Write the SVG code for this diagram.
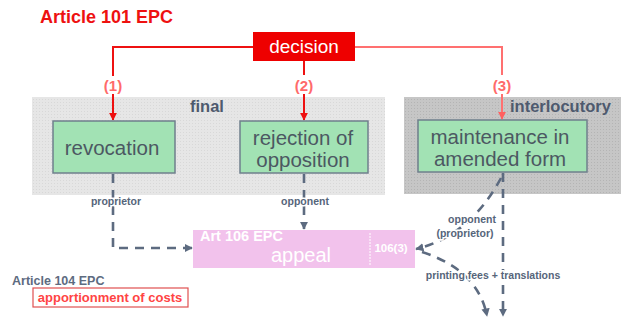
<svg xmlns="http://www.w3.org/2000/svg" width="621" height="320" viewBox="0 0 621 320">
  <defs>
    <style>
      .t { font-family: "Liberation Sans", Arial, sans-serif; }
      .box { fill: #a2e2b4; stroke: #6f7f8c; stroke-width: 1.5; }
      .boxtxt { font-size: 20.5px; fill: #4c5862; text-anchor: middle; }
      .red { stroke: #ee1111; stroke-width: 2; fill: none; }
      .pink { stroke: #ff7070; stroke-width: 2; fill: none; }
      .num { font-size: 15px; font-weight: bold; fill: #ff6a6a; text-anchor: middle; }
      .dash { stroke: #5d6b80; stroke-width: 2.6; fill: none; stroke-dasharray: 9 7; }
      .lbl { font-size: 10.5px; font-weight: bold; fill: #56657a; text-anchor: middle; stroke: #ffffff; stroke-width: 3; paint-order: stroke; }
      .panel { font-size: 16.5px; font-weight: bold; fill: #4e5a6e; }
    </style>
    <marker id="ar" viewBox="0 0 10 10" refX="9" refY="5" markerWidth="4" markerHeight="4" orient="auto">
      <path d="M0,0 L10,5 L0,10 z" fill="#ee1111"/>
    </marker>
    <marker id="arp" viewBox="0 0 10 10" refX="9" refY="5" markerWidth="4" markerHeight="4" orient="auto">
      <path d="M0,0 L10,5 L0,10 z" fill="#ff6060"/>
    </marker>
    <marker id="ag" viewBox="0 0 10 10" refX="9" refY="5" markerWidth="3.2" markerHeight="3.2" orient="auto">
      <path d="M0,0 L10,5 L0,10 z" fill="#5d6b80"/>
    </marker>
    <pattern id="dots" width="3" height="3" patternUnits="userSpaceOnUse">
      <rect width="3" height="3" fill="#e6e6e6"/>
      <rect width="1" height="1" fill="#d8d8d8"/>
    </pattern>
    <pattern id="dots2" width="3" height="3" patternUnits="userSpaceOnUse">
      <rect width="3" height="3" fill="#c6c6c6"/>
      <rect width="1" height="1" fill="#b4b4b4"/>
    </pattern>
  </defs>

  <rect width="621" height="320" fill="#ffffff"/>

  <text class="t" x="40" y="23" font-size="18" font-weight="bold" fill="#ee1111">Article 101 EPC</text>

  <!-- category panels -->
  <g id="panel-final">
    <rect x="32" y="97" width="353" height="98" fill="url(#dots)"/>
    <text class="t panel" x="207" y="112" text-anchor="middle">final</text>
  </g>
  <g id="panel-interlocutory">
    <rect x="404" y="97" width="217" height="97" fill="url(#dots2)"/>
    <text class="t panel" x="510" y="112">interlocutory</text>
  </g>

  <!-- connectors -->
  <g id="connectors">
    <!-- decision branches -->
    <polyline class="red" points="253,47 113,47 113,76"/>
    <line class="red" x1="113" y1="94" x2="113" y2="120" marker-end="url(#ar)"/>
    <line class="red" x1="304" y1="61" x2="304" y2="75"/>
    <line class="red" x1="304" y1="94" x2="304" y2="120" marker-end="url(#ar)"/>
    <polyline class="pink" points="355,47 502,47 502,75"/>
    <line class="pink" x1="502" y1="94" x2="502" y2="119" marker-end="url(#arp)"/>
    <text class="t num" x="113" y="91">(1)</text>
    <text class="t num" x="304" y="91">(2)</text>
    <text class="t num" x="502" y="91">(3)</text>

    <!-- routes to appeal -->
    <polyline class="dash" points="113,174 113,248 192,248" marker-end="url(#ag)"/>
    <line class="dash" x1="304" y1="174" x2="304" y2="229" marker-end="url(#ag)"/>
    <path class="dash" d="M501,178 Q470,236 416,249" marker-end="url(#ag)"/>
    <path class="dash" d="M422,252 Q478,270 487,316" marker-end="url(#ag)"/>
    <line class="dash" x1="503" y1="173" x2="503" y2="316" marker-end="url(#ag)"/>

    <text class="t lbl" x="116" y="205">proprietor</text>
    <text class="t lbl" x="305" y="205">opponent</text>
    <text class="t lbl" x="472" y="223">opponent</text>
    <text class="t lbl" x="465" y="237">(proprietor)</text>
    <text class="t lbl" x="493" y="279">printing fees + translations</text>
  </g>

  <!-- nodes -->
  <g id="decision">
    <rect x="253" y="32" width="102" height="29" fill="#ee0000"/>
    <text class="t" x="304" y="53" font-size="19" fill="#ffffff" text-anchor="middle">decision</text>
  </g>

  <g id="revocation">
    <rect class="box" x="53" y="121" width="122" height="52"/>
    <text class="t boxtxt" x="112" y="155">revocation</text>
  </g>

  <g id="rejection">
    <rect class="box" x="240" y="121" width="128" height="52"/>
    <text class="t boxtxt" x="303" y="145">rejection of</text>
    <text class="t boxtxt" x="303" y="167">opposition</text>
  </g>

  <g id="maintenance">
    <rect class="box" x="418" y="120" width="169" height="52" stroke="#d64a4a"/>
    <text class="t boxtxt" x="500" y="144" font-size="19.5">maintenance in</text>
    <text class="t boxtxt" x="500" y="166" font-size="19.5">amended form</text>
  </g>

  <g id="appeal">
    <rect x="193" y="230" width="222" height="38" fill="#f2c2ec"/>
    <text class="t" x="200" y="241" font-size="14.5" font-weight="bold" fill="#ffffff">Art 106 EPC</text>
    <text class="t" x="301" y="262" font-size="20" fill="#ffffff" text-anchor="middle">appeal</text>
    <line x1="370" y1="233" x2="370" y2="265" stroke="#ffffff" stroke-width="1" stroke-dasharray="2 1"/>
    <text class="t" x="391" y="252" font-size="11.5" font-weight="bold" fill="#ffffff" text-anchor="middle">106(3)</text>
  </g>

  <g id="costs">
    <text class="t" x="12" y="285" font-size="12.5" font-weight="bold" fill="#5d6b80">Article 104 EPC</text>
    <rect x="33" y="288" width="155" height="19" fill="#ffffff" stroke="#e05050" stroke-width="1.2"/>
    <text class="t" x="110" y="302" font-size="13" font-weight="bold" fill="#ff4444" text-anchor="middle">apportionment of costs</text>
  </g>
</svg>
